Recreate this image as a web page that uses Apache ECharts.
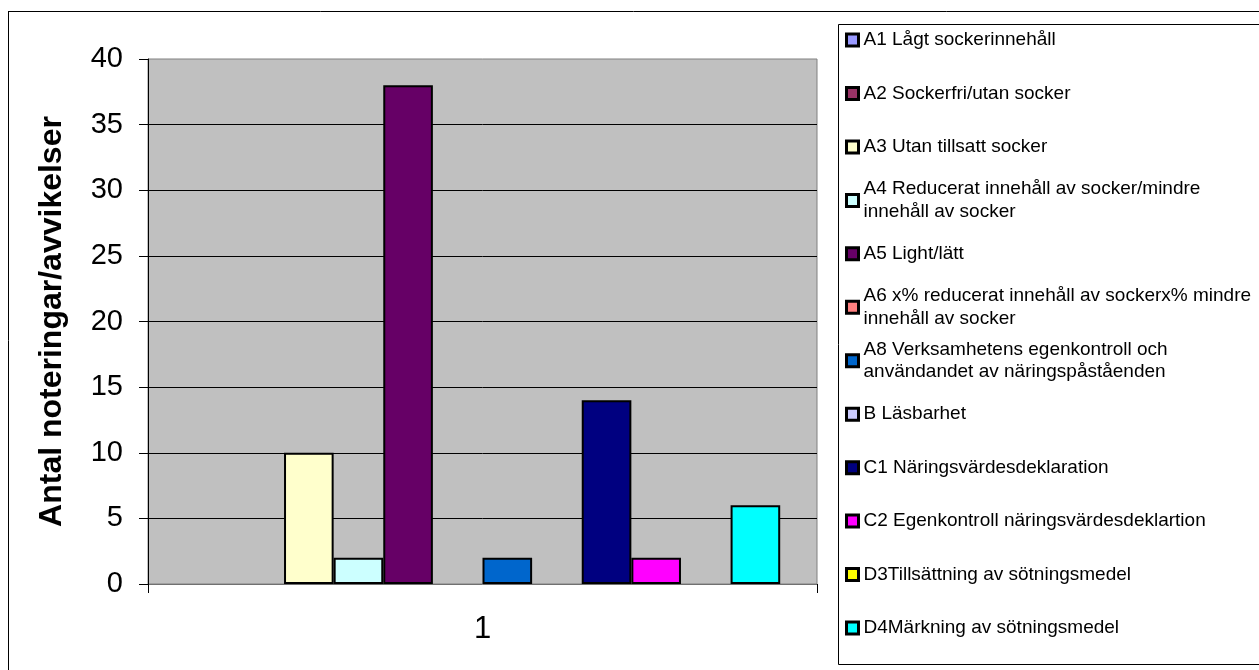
<!DOCTYPE html>
<html>
<head>
<meta charset="utf-8">
<script src="https://cdn.jsdelivr.net/npm/echarts@6/dist/echarts.min.js"></script>
<style>
  html, body { margin: 0; padding: 0; background: #fff; }
  #main { width: 1259px; height: 670px; }
</style>
</head>
<body>
<div id="main"></div>
<script>
const categories = ["1"];
const seriesNames = [
  "A1 Lågt sockerinnehåll",
  "A2 Sockerfri/utan socker",
  "A3 Utan tillsatt socker",
  "A4 Reducerat innehåll av socker/mindre innehåll av socker",
  "A5 Light/lätt",
  "A6 x% reducerat innehåll av sockerx% mindre innehåll av socker",
  "A8 Verksamhetens egenkontroll och användandet av näringspåståenden",
  "B Läsbarhet",
  "C1 Näringsvärdesdeklaration",
  "C2 Egenkontroll näringsvärdesdeklartion",
  "D3Tillsättning av sötningsmedel",
  "D4Märkning av sötningsmedel"
];
// how the legend breaks the longer names
const legendLabels = [
  "A1 Lågt sockerinnehåll",
  "A2 Sockerfri/utan socker",
  "A3 Utan tillsatt socker",
  "A4 Reducerat innehåll av socker/mindre\ninnehåll av socker",
  "A5 Light/lätt",
  "A6 x% reducerat innehåll av sockerx% mindre\ninnehåll av socker",
  "A8 Verksamhetens egenkontroll och\nanvändandet av näringspåståenden",
  "B Läsbarhet",
  "C1 Näringsvärdesdeklaration",
  "C2 Egenkontroll näringsvärdesdeklartion",
  "D3Tillsättning av sötningsmedel",
  "D4Märkning av sötningsmedel"
];
const values = [0, 0, 10, 2, 38, 0, 2, 0, 14, 2, 0, 6];
const colors = ["#9999FF", "#993366", "#FFFFCC", "#CCFFFF", "#660066", "#FF8080",
  "#0066CC", "#CCCCFF", "#000080", "#FF00FF", "#FFFF00", "#00FFFF"];

const font = "'Liberation Sans', Arial, sans-serif";
const lh = 22.7; // legend line height

const myChart = echarts.init(document.getElementById("main"));

const option = {
  animation: false,
  backgroundColor: "#fff",
  textStyle: { fontFamily: font },
  graphic: [
    { type: "line", shape: { x1: 8, y1: 11.5, x2: 1259, y2: 11.5 }, style: { stroke: "#000", lineWidth: 1 } },
    { type: "line", shape: { x1: 8.5, y1: 11, x2: 8.5, y2: 670 }, style: { stroke: "#000", lineWidth: 1 } },
    { type: "rect", shape: { x: 838.5, y: 24.5, width: 500, height: 640 }, style: { fill: null, stroke: "#000", lineWidth: 1 } }
  ],
  grid: {
    left: 148,
    top: 59,
    right: 442,
    bottom: 86,
    show: true,
    backgroundColor: "#C0C0C0",
    borderColor: "#808080",
    borderWidth: 1
  },
  legend: {
    orient: "vertical",
    left: 845,
    top: 6,
    padding: 0,
    itemWidth: 12,
    itemHeight: 12,
    itemGap: 53.45 - 3 * lh,
    icon: "rect",
    selectedMode: false,
    itemStyle: { borderColor: "#000", borderWidth: 3 },
    formatter: function (name) {
      return legendLabels[seriesNames.indexOf(name)];
    },
    textStyle: {
      fontFamily: font,
      fontSize: 19,
      lineHeight: lh,
      color: "#000",
      backgroundColor: "rgba(0,0,0,0)"
    },
    data: seriesNames.map(function (n, i) {
      const twoLines = legendLabels[i].indexOf("\n") >= 0;
      return {
        name: n,
        textStyle: { padding: twoLines ? [lh, 0, 0, 0] : [lh, 0, lh, 0] }
      };
    })
  },
  xAxis: {
    type: "category",
    data: categories,
    axisLine: { lineStyle: { color: "#707070", width: 1 } },
    axisTick: { show: true, length: 9, lineStyle: { color: "#000" } },
    axisLabel: { fontSize: 31, color: "#000", margin: 30, fontFamily: font }
  },
  yAxis: {
    type: "value",
    min: 0,
    max: 40,
    interval: 5,
    name: "Antal noteringar/avvikelser",
    nameLocation: "middle",
    nameGap: 80,
    nameTextStyle: { fontSize: 32, fontWeight: "bold", color: "#000", fontFamily: font },
    axisLine: { show: true, lineStyle: { color: "#000", width: 1 } },
    axisTick: { show: true, length: 9, lineStyle: { color: "#000" } },
    axisLabel: { fontSize: 29, color: "#000", margin: 25, fontFamily: font },
    splitLine: { show: true, showMaxLine: false, showMinLine: false, lineStyle: { color: "#000", width: 1 } }
  },
  series: seriesNames.map(function (n, i) {
    return {
      name: n,
      type: "bar",
      data: [values[i]],
      barGap: "0%",
      barCategoryGap: "11%",
      // empty bars get no outline, like the original
      itemStyle: { color: colors[i], borderColor: "#000", borderWidth: values[i] ? 2 : 0 }
    };
  })
};

myChart.setOption(option);
</script>
</body>
</html>
